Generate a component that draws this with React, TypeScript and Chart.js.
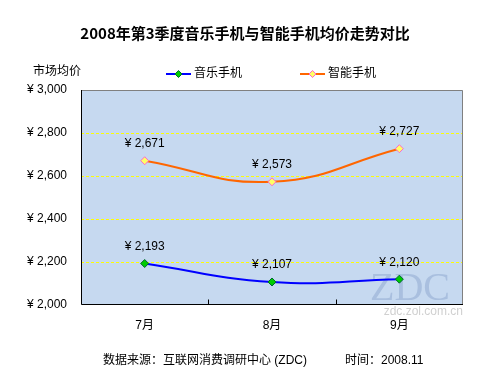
import React, { useEffect, useRef } from "react";
import { Chart, registerables } from "chart.js";
Chart.register(...registerables);

const categories = ["7月", "8月", "9月"];
const musicPhone = [2193, 2107, 2120];
const smartPhone = [2671, 2573, 2727];
const seriesNames = ["音乐手机", "智能手机"];
const yMin = 2000;
const yMax = 3000;
const yStep = 200;

const FONT = "Arial, 'Liberation Sans', 'Noto Sans CJK SC', sans-serif";
const fmt = (v: number) => "¥ " + v.toLocaleString("en-US");

const decorPlugin = {
  id: "decor",
  beforeDraw(chart: any) {
    const { ctx, chartArea: a } = chart;
    ctx.save();
    ctx.fillStyle = "#C6D9F0";
    ctx.fillRect(a.left, a.top, a.right - a.left, a.bottom - a.top);
    ctx.restore();
  },
  beforeDatasetsDraw(chart: any) {
    const { ctx, chartArea: a, scales } = chart;
    ctx.save();
    // crisp dashed yellow gridlines
    ctx.strokeStyle = "#FFFF00";
    ctx.lineWidth = 1;
    ctx.setLineDash([3, 2]);
    for (let v = yMin + yStep; v < yMax; v += yStep) {
      const y = Math.round(scales.y.getPixelForValue(v)) + 0.5;
      ctx.beginPath();
      ctx.moveTo(a.left, y);
      ctx.lineTo(a.right, y);
      ctx.stroke();
    }
    ctx.setLineDash([]);
    ctx.fillStyle = "rgba(140,165,205,0.5)";
    ctx.font = "40px 'Liberation Serif', 'DejaVu Serif', serif";
    ctx.textAlign = "left";
    ctx.textBaseline = "alphabetic";
    ctx.fillText("ZDC", a.right - 93, a.bottom - 5);
    ctx.restore();
  },
  afterDraw(chart: any) {
    const { ctx, chartArea: a, scales } = chart;
    ctx.save();
    ctx.strokeStyle = "#808080";
    ctx.lineWidth = 1;
    const L = Math.round(a.left) + 0.5;
    const R = Math.round(a.right) - 0.5;
    const T = Math.round(a.top) + 0.5;
    const B = Math.round(a.bottom) - 0.5;
    ctx.beginPath();
    ctx.moveTo(L, T);
    ctx.lineTo(R, T);
    ctx.lineTo(R, B);
    ctx.stroke();
    ctx.strokeStyle = "#000";
    ctx.beginPath();
    ctx.moveTo(L, T - 0.5);
    ctx.lineTo(L, B);
    ctx.lineTo(R + 0.5, B);
    ctx.stroke();
    const xs = scales.x;
    for (let i = 0; i < categories.length - 1; i++) {
      const bx = Math.round((xs.getPixelForTick(i) + xs.getPixelForTick(i + 1)) / 2) + 0.5;
      ctx.beginPath();
      ctx.moveTo(bx, B);
      ctx.lineTo(bx, B - 5);
      ctx.stroke();
    }

    ctx.fillStyle = "#000";
    ctx.font = "12px " + FONT;
    ctx.textAlign = "center";
    ctx.textBaseline = "middle";
    chart.data.datasets.forEach((ds: any, di: number) => {
      const meta = chart.getDatasetMeta(di);
      meta.data.forEach((pt: any, i: number) => {
        ctx.fillText(fmt(ds.data[i]), pt.x, pt.y - 17);
      });
    });

    ctx.font = "bold 15px 'Noto Sans CJK SC', " + FONT;
    ctx.fillText("2008年第3季度音乐手机与智能手机均价走势对比", 245, 33);

    ctx.font = "12px " + FONT;
    ctx.textAlign = "left";
    ctx.fillText("市场均价", 33, 72);

    const legendItems = [
      { x: 166, color: "#0000FF", fill: "#00CC00", border: "#006633", text: seriesNames[0] },
      { x: 300, color: "#FF6600", fill: "#FFFF66", border: "#FF66CC", text: seriesNames[1] },
    ];
    legendItems.forEach((it) => {
      const y = 74;
      ctx.strokeStyle = it.color;
      ctx.lineWidth = 2;
      ctx.beginPath();
      ctx.moveTo(it.x, y);
      ctx.lineTo(it.x + 25, y);
      ctx.stroke();
      const cx = it.x + 12.5;
      ctx.fillStyle = it.fill;
      ctx.strokeStyle = it.border;
      ctx.lineWidth = 1;
      ctx.beginPath();
      ctx.moveTo(cx, y - 3.5);
      ctx.lineTo(cx + 3.5, y);
      ctx.lineTo(cx, y + 3.5);
      ctx.lineTo(cx - 3.5, y);
      ctx.closePath();
      ctx.fill();
      ctx.stroke();
      ctx.fillStyle = "#000";
      ctx.fillText(it.text, it.x + 28, y);
    });

    ctx.fillStyle = "#000";
    ctx.fillText("数据来源：互联网消费调研中心 (ZDC)", 103, 361);
    ctx.fillText("时间：2008.11", 345, 361);

    ctx.fillStyle = "#D0D0D0";
    ctx.font = "12px " + FONT;
    ctx.textAlign = "right";
    ctx.fillText("zdc.zol.com.cn", a.right, a.bottom + 7);
    ctx.restore();
  },
};

export default function App() {
  const ref = useRef<HTMLCanvasElement>(null);
  useEffect(() => {
    if (!ref.current) return;
    const chart = new Chart(ref.current, {
      type: "line",
      data: {
        labels: categories,
        datasets: [
          {
            label: seriesNames[0],
            data: musicPhone,
            borderColor: "#0000FF",
            borderWidth: 2,
            tension: 0.45,
            pointStyle: "rectRot",
            pointRadius: 4,
            pointBackgroundColor: "#00CC00",
            pointBorderColor: "#006633",
            pointBorderWidth: 1,
          },
          {
            label: seriesNames[1],
            data: smartPhone,
            borderColor: "#FF6600",
            borderWidth: 2,
            tension: 0.45,
            pointStyle: "rectRot",
            pointRadius: 4,
            pointBackgroundColor: "#FFFF66",
            pointBorderColor: "#FF66CC",
            pointBorderWidth: 1,
          },
        ],
      },
      options: {
        responsive: false,
        animation: false,
        layout: { padding: { left: 0, top: 90, right: 37, bottom: 35 } },
        plugins: { legend: { display: false }, tooltip: { enabled: false }, title: { display: false } },
        scales: {
          x: {
            offset: true,
            grid: { display: false, drawTicks: false },
            border: { display: false },
            ticks: { color: "#000", font: { size: 12, family: FONT }, padding: 13 },
            afterFit: (s: any) => { s.height = 35; },
          },
          y: {
            min: yMin,
            max: yMax,
            ticks: {
              stepSize: yStep,
              color: "#000",
              font: { size: 12, family: FONT },
              padding: 14,
              callback: (v: any) => fmt(Number(v)),
            },
            grid: { display: false, drawTicks: false },
            border: { display: false },
            afterFit: (s: any) => { s.width = 81; },
          },
        },
      },
      plugins: [decorPlugin],
    } as any);
    return () => chart.destroy();
  }, []);
  return (
    <div style={{ position: "fixed", left: 0, top: 0, width: 500, height: 375, background: "#fff" }}>
      <canvas ref={ref} width={500} height={375} />
    </div>
  );
}
